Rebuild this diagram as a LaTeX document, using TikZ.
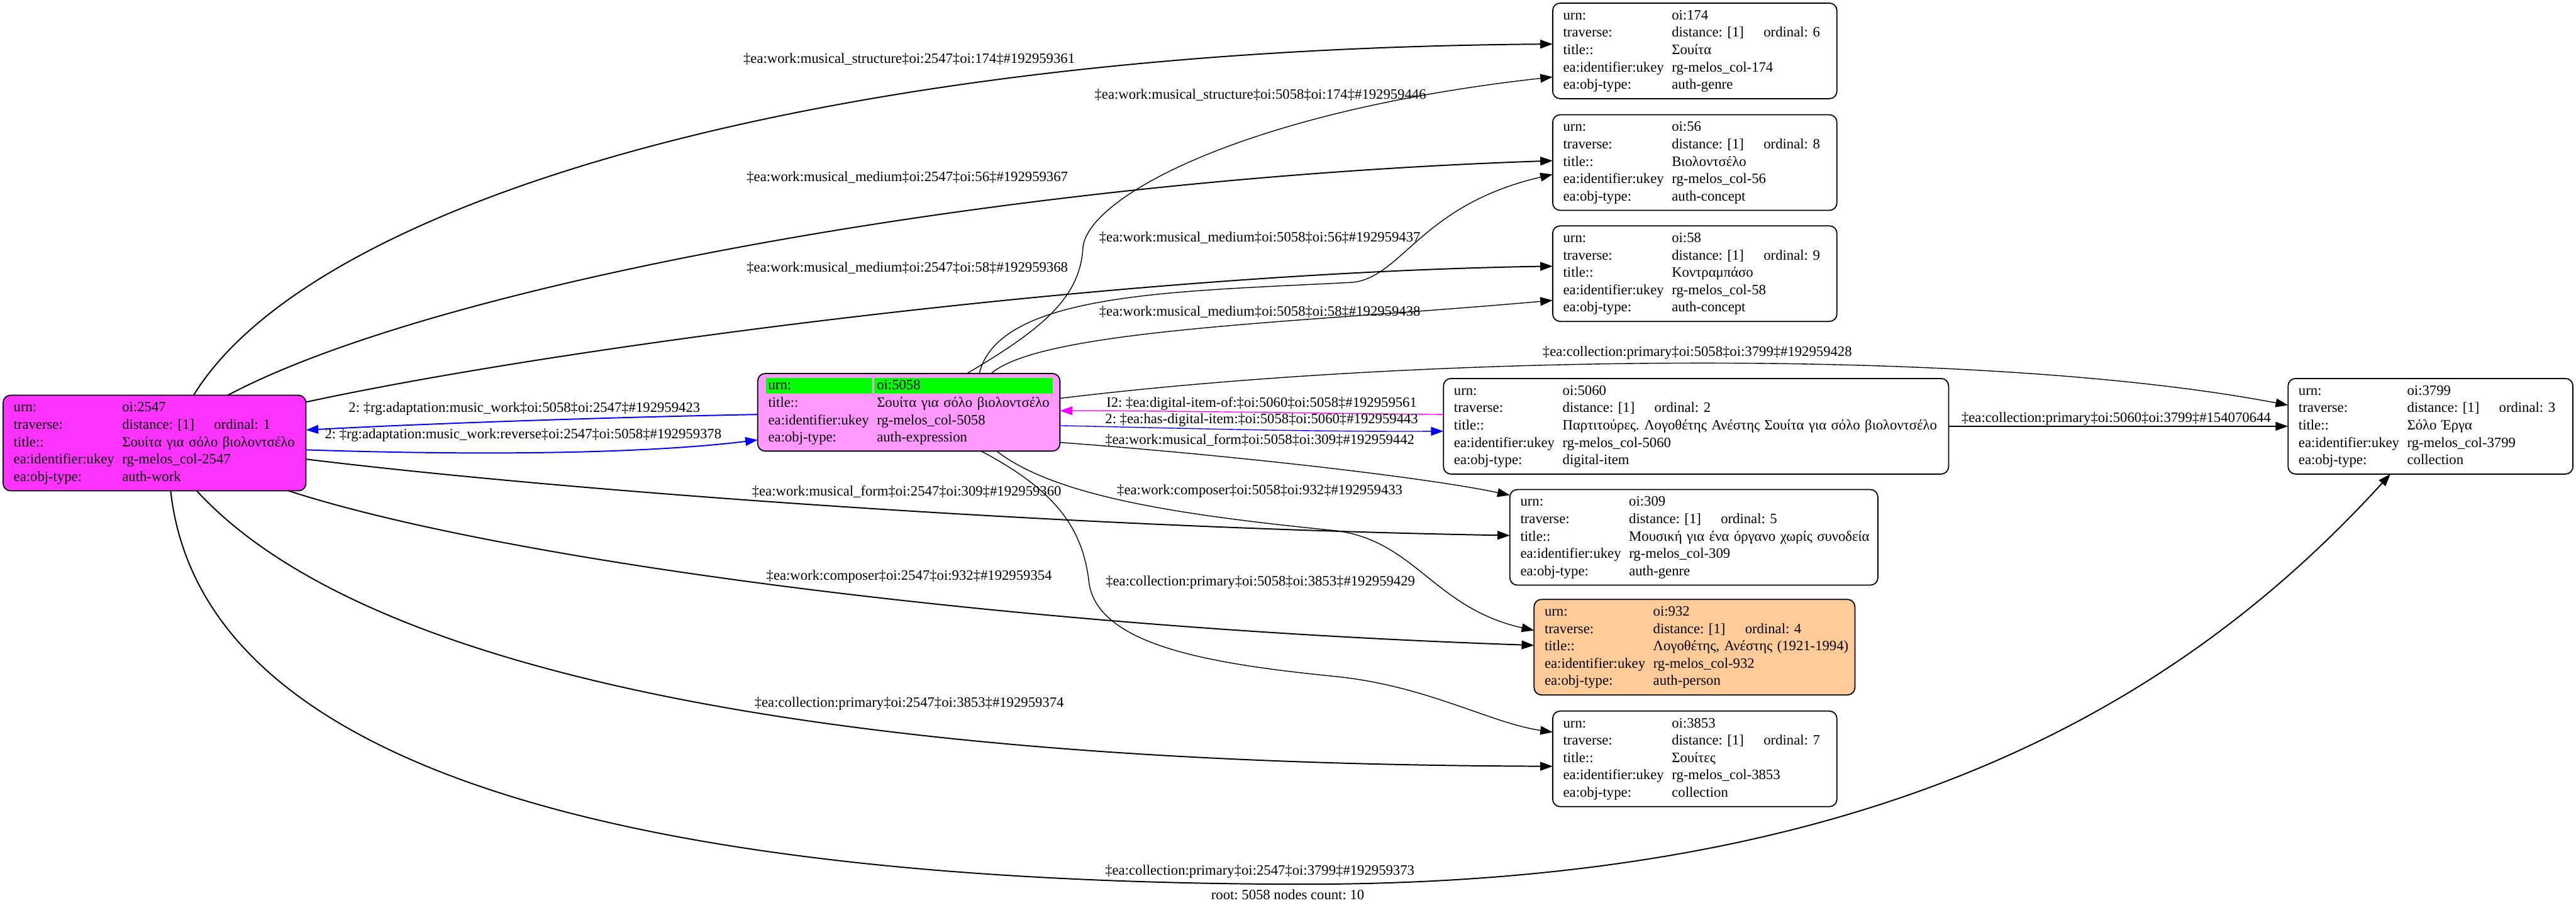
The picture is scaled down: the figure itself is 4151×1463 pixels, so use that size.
\documentclass[tikz,border=0pt]{standalone}
\usepackage{fontspec}
\setmainfont{Liberation Serif}
\usetikzlibrary{arrows.meta,calc}
\frenchspacing
\definecolor{cWork}{HTML}{FF33FF}
\definecolor{cExpr}{HTML}{FF99FF}
\definecolor{cPers}{HTML}{FFCC99}
\definecolor{cGreen}{HTML}{00FF00}
\definecolor{cMag}{HTML}{FF00FF}
\definecolor{cBlue}{HTML}{0000FF}
\newcommand\kv[2]{\mbox{\strut\makebox[87.5pt][l]{#1}#2}}
\newcommand\trav[1]{\makebox[74pt][l]{distance: [1]}ordinal: #1}
\begin{document}
\begin{tikzpicture}[x=0.5pt,y=-0.5pt,
  font=\fontsize{11.5pt}{14pt}\selectfont\frenchspacing,
  rec/.style={draw=black,line width=0.9pt,rounded corners=6pt,anchor=north west,
    inner xsep=8.5pt,inner ysep=0pt,outer sep=0pt,align=left,minimum height=77pt},
  rec4/.style={rec,minimum height=62.5pt},
  lbl/.style={inner sep=0pt},
  eA/.style={line width=1pt,-{Triangle[length=10pt,width=7pt]}},
  eB/.style={line width=0.7pt,-{Triangle[length=10pt,width=7pt]}}]
\fill[white] (0,0) rectangle (4151,1463);
\path[use as bounding box] (0,0) rectangle (4151,1463);

% nodes
\node[rec,fill=cWork,text width=227pt] (n2547) at (5,637)
 {\kv{urn:}{oi:2547}\\\kv{traverse:}{\trav{1}}\\\kv{title::}{Σουίτα για σόλο βιολοντσέλο}\\\kv{ea:identifier:ukey}{rg-melos\_col-2547}\\\kv{ea:obj-type:}{auth-work}};
\node[rec4,fill=cExpr,text width=226.5pt,
  path picture={\fill[cGreen,sharp corners] ($(path picture bounding box.north west)+(6.5pt,-3.5pt)$) rectangle ++(86pt,-12.5pt);
    \fill[cGreen,sharp corners] ($(path picture bounding box.north west)+(94pt,-3.5pt)$) rectangle ++(143.5pt,-12.5pt);}] (n5058) at (1221,602)
 {\kv{urn:}{oi:5058}\\\kv{title::}{Σουίτα για σόλο βιολοντσέλο}\\\kv{ea:identifier:ukey}{rg-melos\_col-5058}\\\kv{ea:obj-type:}{auth-expression}};
\node[rec,text width=212pt] (n174) at (2502,5)
 {\kv{urn:}{oi:174}\\\kv{traverse:}{\trav{6}}\\\kv{title::}{Σουίτα}\\\kv{ea:identifier:ukey}{rg-melos\_col-174}\\\kv{ea:obj-type:}{auth-genre}};
\node[rec,text width=212pt] (n56) at (2502,185)
 {\kv{urn:}{oi:56}\\\kv{traverse:}{\trav{8}}\\\kv{title::}{Βιολοντσέλο}\\\kv{ea:identifier:ukey}{rg-melos\_col-56}\\\kv{ea:obj-type:}{auth-concept}};
\node[rec,text width=212pt] (n58) at (2502,364)
 {\kv{urn:}{oi:58}\\\kv{traverse:}{\trav{9}}\\\kv{title::}{Κοντραμπάσο}\\\kv{ea:identifier:ukey}{rg-melos\_col-58}\\\kv{ea:obj-type:}{auth-concept}};
\node[rec,text width=390pt] (n5060) at (2326,610)
 {\kv{urn:}{oi:5060}\\\kv{traverse:}{\trav{2}}\\\kv{title::}{Παρτιτούρες. Λογοθέτης Ανέστης Σουίτα για σόλο βιολοντσέλο}\\\kv{ea:identifier:ukey}{rg-melos\_col-5060}\\\kv{ea:obj-type:}{digital-item}};
\node[rec,text width=279.5pt] (n309) at (2433,789)
 {\kv{urn:}{oi:309}\\\kv{traverse:}{\trav{5}}\\\kv{title::}{Μουσική για ένα όργανο χωρίς συνοδεία}\\\kv{ea:identifier:ukey}{rg-melos\_col-309}\\\kv{ea:obj-type:}{auth-genre}};
\node[rec,fill=cPers,text width=241.5pt] (n932) at (2472,966)
 {\kv{urn:}{oi:932}\\\kv{traverse:}{\trav{4}}\\\kv{title::}{Λογοθέτης, Ανέστης (1921-1994)}\\\kv{ea:identifier:ukey}{rg-melos\_col-932}\\\kv{ea:obj-type:}{auth-person}};
\node[rec,text width=212pt] (n3853) at (2502,1146)
 {\kv{urn:}{oi:3853}\\\kv{traverse:}{\trav{7}}\\\kv{title::}{Σουίτες}\\\kv{ea:identifier:ukey}{rg-melos\_col-3853}\\\kv{ea:obj-type:}{collection}};
\node[rec,text width=212.5pt] (n3799) at (3687,610)
 {\kv{urn:}{oi:3799}\\\kv{traverse:}{\trav{3}}\\\kv{title::}{Σόλο Έργα}\\\kv{ea:identifier:ukey}{rg-melos\_col-3799}\\\kv{ea:obj-type:}{collection}};

% edges from 2547
\draw[eA] ($(n2547.north west)+(307,0)$) .. controls (500,330) and (1300,80) .. ($(n174.north west)+(0,66)$);
\draw[eA] ($(n2547.north west)+(362,0)$) .. controls (700,460) and (1600,290) .. ($(n56.north west)+(0,74)$);
\draw[eA] ($(n2547.north east)+(0,11)$) .. controls (900,560) and (1800,440) .. ($(n58.north west)+(0,65)$);
\draw[eA,cBlue] ($(n2547.north east)+(0,88)$) .. controls (800,735) and (1050,730) .. ($(n5058.north west)+(0,107)$);
\draw[eA,cBlue] ($(n5058.north west)+(0,66)$) .. controls (1000,672) and (700,682) .. ($(n2547.north east)+(0,56)$);
\draw[eA] ($(n2547.north east)+(0,103)$) .. controls (900,790) and (1700,850) .. ($(n309.north west)+(0,74)$);
\draw[eA] ($(n2547.south east)+(-28,0)$) .. controls (800,900) and (1600,1010) .. ($(n932.north west)+(0,74)$);
\draw[eA] ($(n2547.south west)+(312,0)$) .. controls (500,990) and (1000,1230) .. ($(n3853.north west)+(0,89)$);
\draw[eA] ($(n2547.south west)+(270,0)$) .. controls (320,1200) and (900,1420) .. (2075,1425)
   .. controls (3000,1430) and (3500,1150) .. ($(n3799.south west)+(165,0)$);

% edges from 5058 / 5060
\draw[eB] ($(n5058.north west)+(337,0)$) .. controls (1680,530) and (1740,480) .. (1745,400)
   .. controls (1750,320) and (2000,180) .. ($(n174.north west)+(0,119)$);
\draw[eB] ($(n5058.north west)+(357,0)$) .. controls (1610,470) and (1900,470) .. (2180,455)
   .. controls (2260,446) and (2290,330) .. ($(n56.north west)+(0,96)$);
\draw[eB] ($(n5058.north west)+(376,0)$) .. controls (1680,530) and (2100,520) .. ($(n58.north west)+(0,120)$);
\draw[eB] ($(n5058.north east)+(0,40)$) .. controls (2300,570) and (3200,560) .. ($(n3799.north west)+(0,43)$);
\draw[eB,cBlue] ($(n5058.north east)+(0,84)$) .. controls (1900,690) and (2100,696) .. ($(n5060.north west)+(0,85)$);
\draw[eB,cMag] ($(n5060.north west)+(0,58)$) .. controls (2100,666) and (1900,662) .. ($(n5058.north east)+(0,60)$);
\draw[eB] ($(n5058.north east)+(0,111)$) .. controls (2000,735) and (2300,770) .. ($(n309.north west)+(0,9)$);
\draw[eB] ($(n5058.south west)+(385,0)$) .. controls (1700,800) and (1900,830) .. (2150,855)
   .. controls (2280,870) and (2310,980) .. ($(n932.north west)+(0,50)$);
\draw[eB] ($(n5058.south west)+(360,0)$) .. controls (1700,790) and (1745,850) .. (1755,940)
   .. controls (1770,1040) and (1950,1070) .. (2150,1090)
   .. controls (2300,1105) and (2400,1165) .. ($(n3853.north west)+(0,34)$);
\draw[eB] ($(n5060.north east)+(0,77)$) -- ($(n3799.north west)+(0,77)$);

% edge labels
\node[lbl] (l1) at (1465,95) {‡ea:work:musical\_structure‡oi:2547‡oi:174‡\#192959361};
\node[lbl] (l2) at (2031,153) {‡ea:work:musical\_structure‡oi:5058‡oi:174‡\#192959446};
\node[lbl] (l3) at (1462,286) {‡ea:work:musical\_medium‡oi:2547‡oi:56‡\#192959367};
\node[lbl] (l4) at (2030,383) {‡ea:work:musical\_medium‡oi:5058‡oi:56‡\#192959437};
\node[lbl] (l5) at (1462,432) {‡ea:work:musical\_medium‡oi:2547‡oi:58‡\#192959368};
\node[lbl] (l6) at (2030,503) {‡ea:work:musical\_medium‡oi:5058‡oi:58‡\#192959438};
\node[lbl] (l7) at (2735,569) {‡ea:collection:primary‡oi:5058‡oi:3799‡\#192959428};
\node[lbl] (l8) at (2033,651) {I2: ‡ea:digital-item-of:‡oi:5060‡oi:5058‡\#192959561};
\node[lbl] (l9) at (845,659) {2: ‡rg:adaptation:music\_work‡oi:5058‡oi:2547‡\#192959423};
\node[lbl] (l10) at (2033,677) {2: ‡ea:has-digital-item:‡oi:5058‡oi:5060‡\#192959443};
\node[lbl] (l11) at (843,701) {2: ‡rg:adaptation:music\_work:reverse‡oi:2547‡oi:5058‡\#192959378};
\node[lbl] (l12) at (2030,709) {‡ea:work:musical\_form‡oi:5058‡oi:309‡\#192959442};
\node[lbl] (l13) at (3410,675) {‡ea:collection:primary‡oi:5060‡oi:3799‡\#154070644};
\node[lbl] (l14) at (1461,792) {‡ea:work:musical\_form‡oi:2547‡oi:309‡\#192959360};
\node[lbl] (l15) at (2030,792) {‡ea:work:composer‡oi:5058‡oi:932‡\#192959433};
\node[lbl] (l16) at (1465,929) {‡ea:work:composer‡oi:2547‡oi:932‡\#192959354};
\node[lbl] (l17) at (2031,938) {‡ea:collection:primary‡oi:5058‡oi:3853‡\#192959429};
\node[lbl] (l18) at (1465,1134) {‡ea:collection:primary‡oi:2547‡oi:3853‡\#192959374};
\node[lbl] (l19) at (2030,1405) {‡ea:collection:primary‡oi:2547‡oi:3799‡\#192959373};
\node[lbl] (foot) at (2075,1442) {root: 5058 nodes count: 10};
\end{tikzpicture}
\end{document}
